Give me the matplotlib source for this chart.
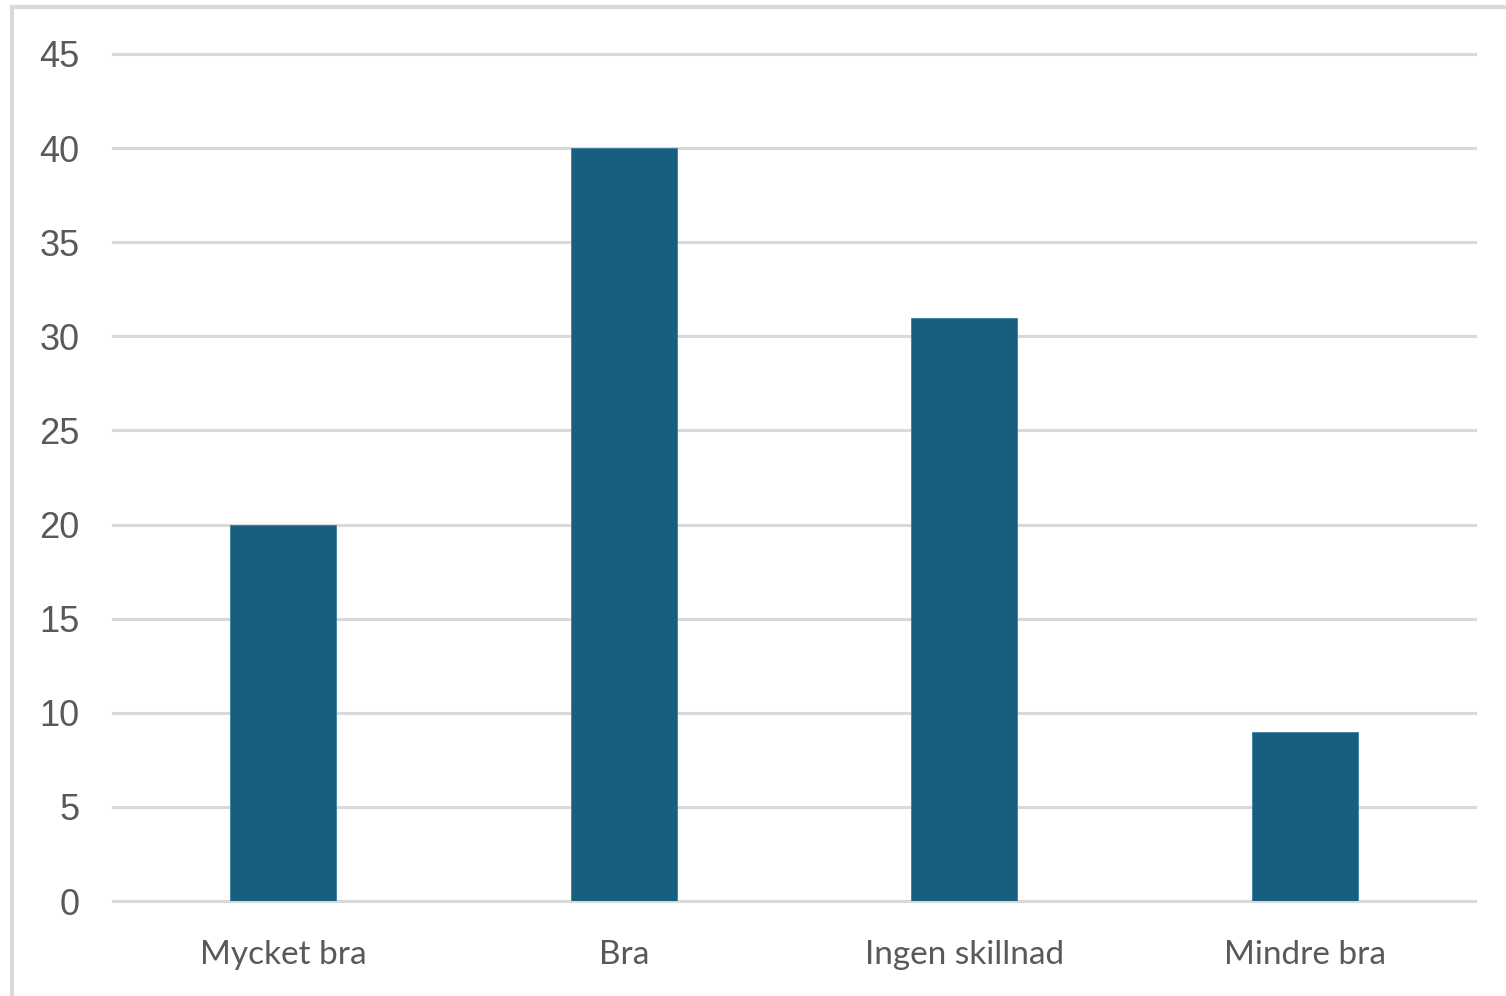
import matplotlib.pyplot as plt
from matplotlib.patches import Rectangle

categories = ["Mycket bra", "Bra", "Ingen skillnad", "Mindre bra"]
values = [20, 40, 31, 9]
yticks = [0, 5, 10, 15, 20, 25, 30, 35, 40, 45]

W, H = 1506, 996
fig = plt.figure(figsize=(W / 100, H / 100), dpi=100)
ax = fig.add_axes([113 / W, 1 - 901 / H, (1475 - 113) / W, (901 - 54) / H])

# light frame round the chart area (right/bottom run off the picture)
fig.patches.append(Rectangle((12 / W, -0.1), 1.2, 1 - 7 / H + 0.1,
                             transform=fig.transFigure, fill=False,
                             edgecolor="#D9D9D9", linewidth=3))

ax.bar(range(len(categories)), values, width=0.31, color="#175E7F",
       edgecolor="#3A7FA0", linewidth=0.6, zorder=3)

ax.set_xlim(-0.5, len(categories) - 0.5)
ax.set_ylim(0, 45)
ax.set_yticks(yticks)
ax.set_yticklabels([str(t) for t in yticks], fontsize=26, color="#595959",
                   family="Liberation Sans")
ax.set_xticks(range(len(categories)))
ax.set_xticklabels(categories, fontsize=24, color="#595959", family="Lato")
ax.tick_params(axis="y", length=0, pad=24)
ax.tick_params(axis="x", length=0, pad=28)

ax.grid(axis="y", color="#D9D9D9", linewidth=2.2, zorder=0)
for gl in ax.yaxis.get_gridlines():
    gl.set_clip_on(False)
for s in ax.spines.values():
    s.set_visible(False)

fig.savefig("out.png", dpi=100)
